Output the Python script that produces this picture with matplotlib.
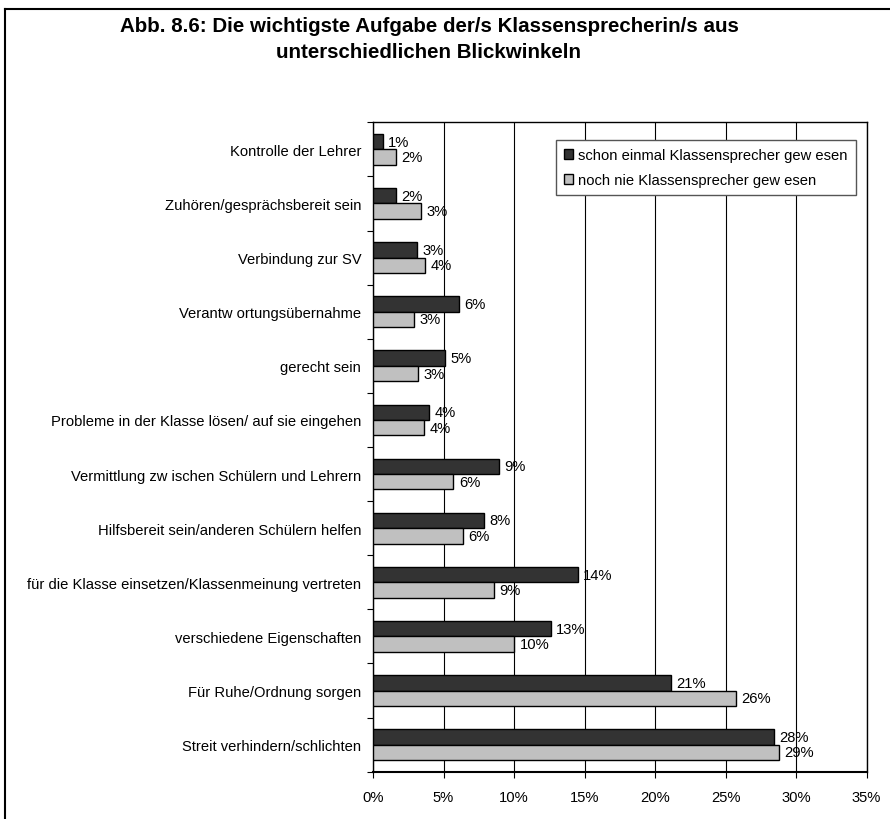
import numpy as np
import matplotlib.pyplot as plt
from matplotlib.lines import Line2D
from matplotlib.patches import Patch

plt.rcParams['font.family'] = ['Liberation Sans', 'DejaVu Sans']

# Kategorien (von oben nach unten)
kategorien = [
    "Kontrolle der Lehrer",
    "Zuhören/gesprächsbereit sein",
    "Verbindung zur SV",
    "Verantw ortungsübernahme",
    "gerecht sein",
    "Probleme in der Klasse lösen/ auf sie eingehen",
    "Vermittlung zw ischen Schülern und Lehrern",
    "Hilfsbereit sein/anderen Schülern helfen",
    "für die Klasse einsetzen/Klassenmeinung vertreten",
    "verschiedene Eigenschaften",
    "Für Ruhe/Ordnung sorgen",
    "Streit verhindern/schlichten",
]

# Anteile in Prozent
schon_einmal = [0.7, 1.6, 3.1, 6.1, 5.1, 4.0, 8.9, 7.9, 14.5, 12.6, 21.1, 28.4]
noch_nie = [1.6, 3.4, 3.7, 2.9, 3.2, 3.6, 5.7, 6.4, 8.6, 10.0, 25.7, 28.8]

label_schon = "schon einmal Klassensprecher gew esen"
label_nie = "noch nie Klassensprecher gew esen"

fs = 10.6

fig = plt.figure(figsize=(8.9, 8.2), dpi=100)
ax = fig.add_axes([0.4191, 0.0577, 0.5547, 0.7919])

n = len(kategorien)
y = np.arange(n) + 0.5
h = 0.285

ax.barh(y - h / 2, schon_einmal, height=h, color="#333333", edgecolor="black", linewidth=1, zorder=3)
ax.barh(y + h / 2, noch_nie, height=h, color="#c0c0c0", edgecolor="black", linewidth=1, zorder=3)

for yi, v in zip(y, schon_einmal):
    ax.text(v + 0.38, yi - h / 2, f"{round(v):.0f}%", va="center", ha="left", fontsize=fs, zorder=4)
for yi, v in zip(y, noch_nie):
    ax.text(v + 0.38, yi + h / 2, f"{round(v):.0f}%", va="center", ha="left", fontsize=fs, zorder=4)

ax.set_xlim(0, 35)
ax.set_ylim(n, 0)
ax.set_xticks(np.arange(0, 36, 5))
ax.set_xticklabels([f"{t}%" for t in range(0, 36, 5)], fontsize=fs)
ax.set_yticks(y)
ax.set_yticklabels(kategorien, fontsize=fs)
ax.set_yticks(np.arange(0, n + 1), minor=True)
ax.tick_params(axis="y", which="major", length=0, pad=8.5)
ax.tick_params(axis="y", which="minor", length=4, width=0.8, direction="out")
ax.tick_params(axis="x", length=4, width=0.8, direction="out", pad=9)
ax.grid(axis="x", color="black", linewidth=0.8, zorder=0)
for s in ax.spines.values():
    s.set_color("black")
    s.set_linewidth(1.0)
ax.spines["bottom"].set_linewidth(1.5)

handles = [Patch(facecolor="#333333", edgecolor="black", label=label_schon),
           Patch(facecolor="#c0c0c0", edgecolor="black", label=label_nie)]
leg = ax.legend(handles=handles, loc="upper right", bbox_to_anchor=(0.978, 0.9727),
                fontsize=fs, frameon=True, fancybox=False, framealpha=1,
                handlelength=0.6, handleheight=0.6, handletextpad=0.35,
                labelspacing=0.75, borderpad=0.55, borderaxespad=0)
leg.get_frame().set_edgecolor("#555555")
leg.get_frame().set_linewidth(1.0)

fig.text(429 / 890, 1 - 27 / 820, "Abb. 8.6: Die wichtigste Aufgabe der/s Klassensprecherin/s aus",
         ha="center", va="center", fontsize=14.8, fontweight="bold")
fig.text(429 / 890, 1 - 52 / 820, "unterschiedlichen Blickwinkeln",
         ha="center", va="center", fontsize=14.8, fontweight="bold")

# Rahmen
fig.add_artist(Line2D([5 / 890, 5 / 890], [0, 1 - 10 / 820], transform=fig.transFigure, color="black", linewidth=1.5))
fig.add_artist(Line2D([5 / 890, 1], [1 - 10 / 820, 1 - 10 / 820], transform=fig.transFigure, color="black", linewidth=1.5))

fig.savefig("out.png", dpi=100)
